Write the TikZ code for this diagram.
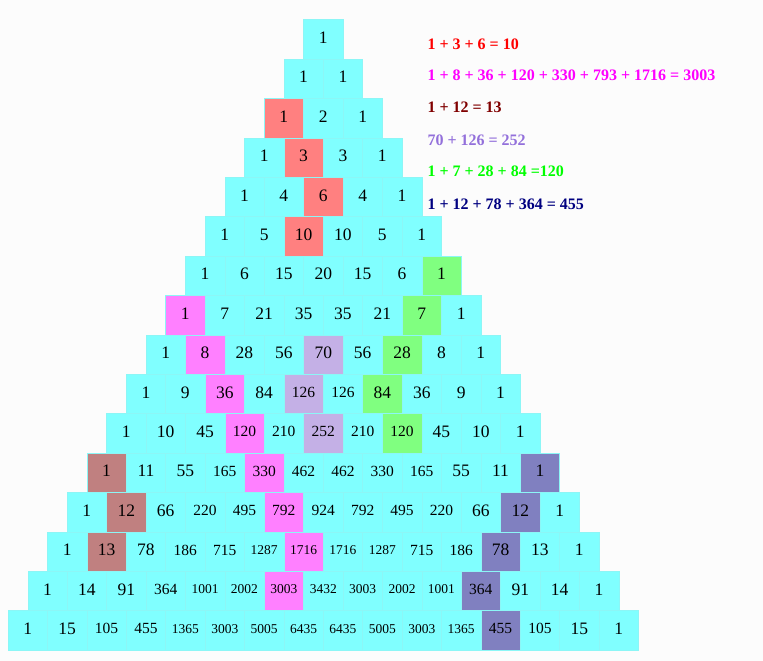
\documentclass[tikz,border=0pt]{standalone}
\usepackage{fontspec}
\setmainfont{Liberation Serif}
\definecolor{bgcol}{HTML}{FCFCFC}
\definecolor{cellcyan}{HTML}{80FFFF}
\definecolor{cellline}{HTML}{8CF6F6}
\definecolor{hlred}{HTML}{FF8080}
\definecolor{hlmag}{HTML}{FF80FF}
\definecolor{hlbrown}{HTML}{C08080}
\definecolor{hllav}{HTML}{C4B0E6}
\definecolor{hlgreen}{HTML}{80FF80}
\definecolor{hlpurple}{HTML}{8080C0}
\definecolor{lred}{HTML}{FF0000}
\definecolor{lmag}{HTML}{FF00FF}
\definecolor{lmaroon}{HTML}{800000}
\definecolor{lpurple}{HTML}{9370DB}
\definecolor{lgreen}{HTML}{00FF00}
\definecolor{lnavy}{HTML}{000080}
\newcommand\sethl[3]{\expandafter\def\csname hl-#1-#2\endcsname{#3}}
\sethl{2}{0}{hlred}\sethl{3}{1}{hlred}\sethl{4}{2}{hlred}\sethl{5}{2}{hlred}
\sethl{7}{0}{hlmag}\sethl{8}{1}{hlmag}\sethl{9}{2}{hlmag}\sethl{10}{3}{hlmag}
\sethl{11}{4}{hlmag}\sethl{12}{5}{hlmag}\sethl{13}{6}{hlmag}\sethl{14}{6}{hlmag}
\sethl{11}{0}{hlbrown}\sethl{12}{1}{hlbrown}\sethl{13}{1}{hlbrown}
\sethl{8}{4}{hllav}\sethl{9}{4}{hllav}\sethl{10}{5}{hllav}
\sethl{6}{6}{hlgreen}\sethl{7}{6}{hlgreen}\sethl{8}{6}{hlgreen}\sethl{9}{6}{hlgreen}\sethl{10}{7}{hlgreen}
\sethl{11}{11}{hlpurple}\sethl{12}{11}{hlpurple}\sethl{13}{11}{hlpurple}\sethl{14}{11}{hlpurple}\sethl{15}{12}{hlpurple}
\tikzset{
  cellbox/.style={draw=cellline, line width=0.5pt, minimum width=39.4pt, minimum height=39.4pt,
    inner sep=0pt, text depth=3pt, anchor=north west},
  sumlabel/.style={anchor=base west, inner sep=0pt, font=\fontsize{16}{16}\selectfont\bfseries}
}
\begin{document}
\begin{tikzpicture}[x=1pt,y=-1pt]
\fill[bgcol] (0,0) rectangle (763,661);
\useasboundingbox (0,0) rectangle (763,661);
\foreach \vals [count=\rr from 0] in {
 {1},
 {1,1},
 {1,2,1},
 {1,3,3,1},
 {1,4,6,4,1},
 {1,5,10,10,5,1},
 {1,6,15,20,15,6,1},
 {1,7,21,35,35,21,7,1},
 {1,8,28,56,70,56,28,8,1},
 {1,9,36,84,126,126,84,36,9,1},
 {1,10,45,120,210,252,210,120,45,10,1},
 {1,11,55,165,330,462,462,330,165,55,11,1},
 {1,12,66,220,495,792,924,792,495,220,66,12,1},
 {1,13,78,186,715,1287,1716,1716,1287,715,186,78,13,1},
 {1,14,91,364,1001,2002,3003,3432,3003,2002,1001,364,91,14,1},
 {1,15,105,455,1365,3003,5005,6435,6435,5005,3003,1365,455,105,15,1}}{
  \foreach \v [count=\kk from 0] in \vals {
    \ifcsname hl-\rr-\kk\endcsname
      \edef\cc{\csname hl-\rr-\kk\endcsname}%
    \else
      \def\cc{cellcyan}%
    \fi
    \ifnum\v>999 \def\fs{13.5}\else\ifnum\v>99 \def\fs{15.5}\else\def\fs{17.5}\fi\fi
    \node[cellbox, fill=\cc, font=\fontsize{\fs}{\fs}\selectfont]
      (c-\rr-\kk) at ({303.3-\rr*19.7+\kk*39.4},{19.3+\rr*39.4}) {\v};
  }
}
\node[sumlabel, text=lred]    (s1) at (427.3,49.3)  {1 + 3 + 6 = 10};
\node[sumlabel, text=lmag]    (s2) at (427.3,81.0)  {1 + 8 + 36 + 120 + 330 + 793 + 1716 = 3003};
\node[sumlabel, text=lmaroon] (s3) at (427.3,112.7) {1 + 12 = 13};
\node[sumlabel, text=lpurple] (s4) at (427.3,145.0) {70 + 126 = 252};
\node[sumlabel, text=lgreen]  (s5) at (427.3,176.7) {1 + 7 + 28 + 84 =120};
\node[sumlabel, text=lnavy]   (s6) at (427.3,209.0) {1 + 12 + 78 + 364 = 455};
\end{tikzpicture}
\end{document}
